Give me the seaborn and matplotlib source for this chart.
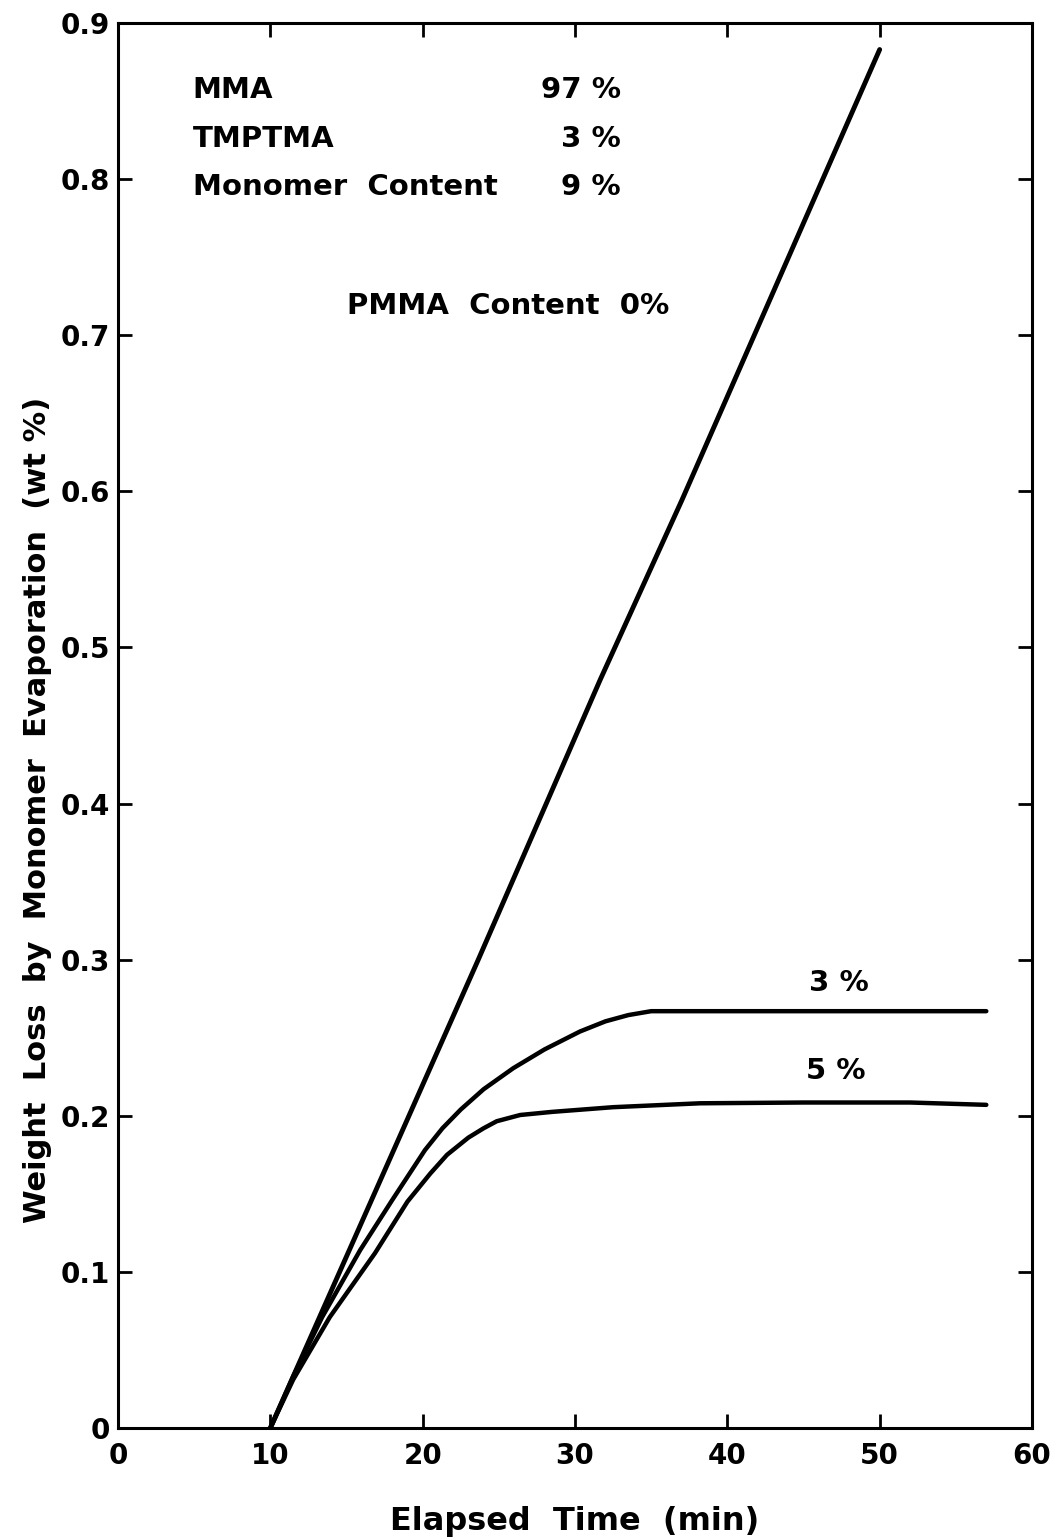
import matplotlib
matplotlib.use("Agg")
import matplotlib.pyplot as plt
import seaborn as sns
import pandas as pd

# ---- data ----
time_0pct = [10, 23.65, 31.64, 37.0, 50.0]
loss_0pct = [0.0, 0.300, 0.479, 0.594, 0.883]

time_3pct = [10, 11.5, 13.4, 15.9, 18.0, 20.15, 21.3, 22.5, 24.0, 25.95, 28.0, 30.33, 32.0, 33.5, 35.0, 40.0, 50.0, 57.0]
loss_3pct = [0.0, 0.033, 0.071, 0.114, 0.146, 0.178, 0.192, 0.204, 0.217, 0.2305, 0.2425, 0.254, 0.2605, 0.2645, 0.267, 0.267, 0.267, 0.267]

time_5pct = [10, 11.5, 13.9, 16.87, 19.0, 20.5, 21.6, 23.0, 24.0, 24.86, 26.4, 28.5, 32.5, 38.2, 45.0, 52.0, 57.0]
loss_5pct = [0.0, 0.031, 0.071, 0.112, 0.145, 0.163, 0.175, 0.186, 0.192, 0.1965, 0.2005, 0.2025, 0.2055, 0.208, 0.2085, 0.2085, 0.207]

x_ticks = [0, 10, 20, 30, 40, 50, 60]
y_ticks = [0, 0.1, 0.2, 0.3, 0.4, 0.5, 0.6, 0.7, 0.8, 0.9]
y_tick_labels = ["0", "0.1", "0.2", "0.3", "0.4", "0.5", "0.6", "0.7", "0.8", "0.9"]

composition_names = ["MMA", "TMPTMA", "Monomer  Content"]
composition_values = ["97 %", "3 %", "9 %"]
curve_labels = ["3 %", "5 %"]

sns.set_theme(style="ticks")
plt.rcParams["font.family"] = ["DejaVu Sans"]
plt.rcParams["text.color"] = "black"
plt.rcParams["axes.labelcolor"] = "black"

df = pd.concat([
    pd.DataFrame({"time": time_0pct, "loss": loss_0pct, "series": "0%"}),
    pd.DataFrame({"time": time_3pct, "loss": loss_3pct, "series": "3%"}),
    pd.DataFrame({"time": time_5pct, "loss": loss_5pct, "series": "5%"}),
])

fig = plt.figure(figsize=(10.57, 15.39), dpi=100)
ax = fig.add_axes([118 / 1057, 1 - 1428 / 1539, (1032 - 118) / 1057, (1428 - 23) / 1539])

for name, lw in [("0%", 3.5), ("3%", 3.2), ("5%", 3.2)]:
    sns.lineplot(data=df[df["series"] == name], x="time", y="loss", ax=ax,
                 color="black", linewidth=lw, sort=False, estimator=None,
                 solid_capstyle="round", solid_joinstyle="round")

ax.set_xlim(0, 60)
ax.set_ylim(0, 0.9)
ax.set_xticks(x_ticks)
ax.set_xticklabels([str(t) for t in x_ticks], fontweight="bold")
ax.set_yticks(y_ticks)
ax.set_yticklabels(y_tick_labels, fontweight="bold")

for s in ax.spines.values():
    s.set_visible(True)
    s.set_linewidth(2.2)
    s.set_color("black")

ax.tick_params(axis="both", which="both", direction="in", length=10, width=2,
               top=True, right=True, labelsize=20, colors="black")
ax.tick_params(axis="x", pad=10)
ax.tick_params(axis="y", pad=6)

ax.set_xlabel("Elapsed  Time  (min)", fontsize=23, fontweight="bold", labelpad=26)
ax.set_ylabel("")
fig.text(38 / 1057, 1 - 810 / 1539, "Weight  Loss  by  Monomer  Evaporation  (wt %)",
         rotation=90, fontsize=22, fontweight="bold", ha="center", va="center")

# composition block
ys = [0.857, 0.826, 0.795]
for nm, val, yy in zip(composition_names, composition_values, ys):
    ax.text(4.9, yy, nm, fontsize=21, fontweight="bold", ha="left", va="center")
    ax.text(33.0, yy, val, fontsize=21, fontweight="bold", ha="right", va="center")

ax.text(25.6, 0.719, "PMMA  Content  0%", fontsize=21, fontweight="bold", ha="center", va="center")
ax.text(47.3, 0.285, curve_labels[0], fontsize=21, fontweight="bold", ha="center", va="center")
ax.text(47.1, 0.229, curve_labels[1], fontsize=21, fontweight="bold", ha="center", va="center")

fig.savefig("out.png", dpi=100)
